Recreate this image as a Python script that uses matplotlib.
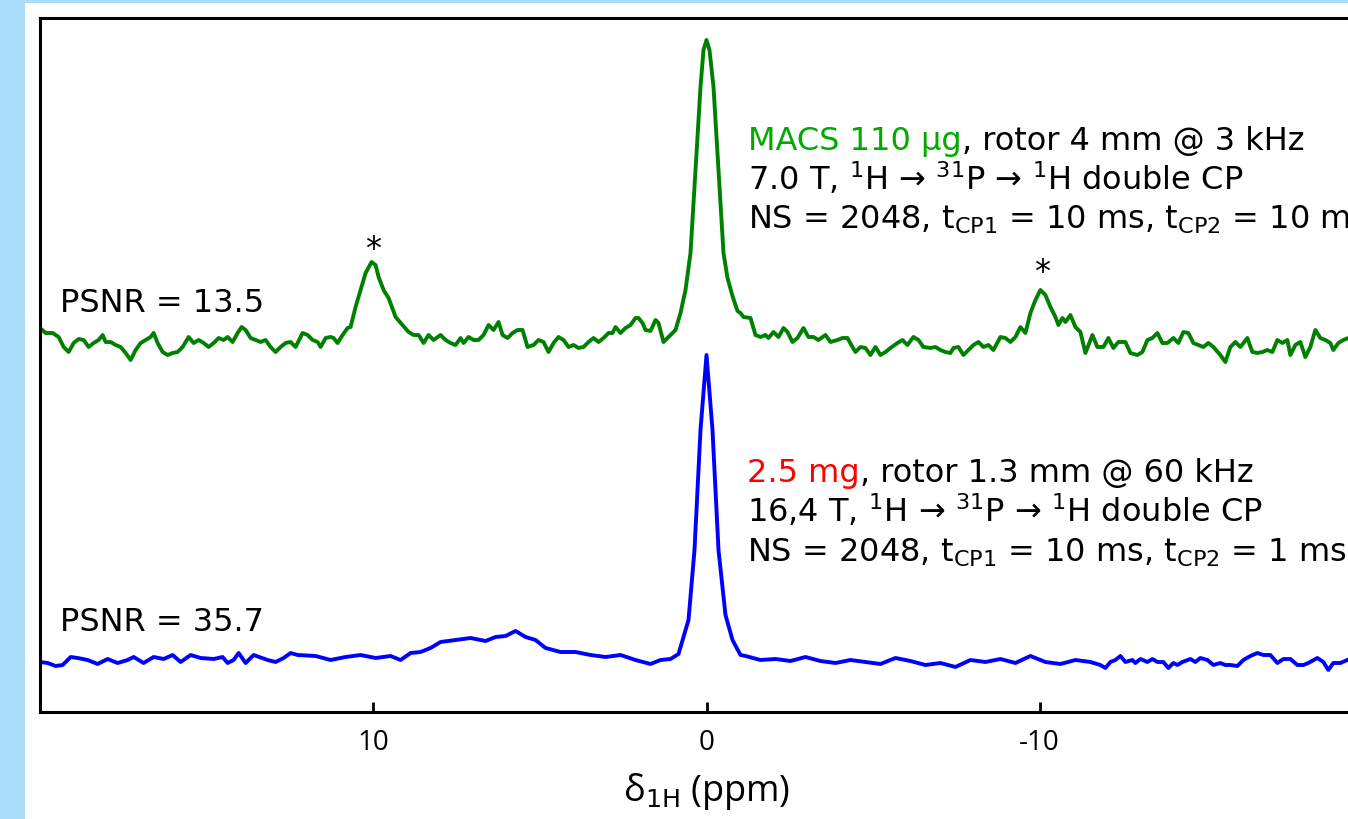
import numpy as np
import matplotlib.pyplot as plt
from matplotlib.patches import Rectangle

# 1H double-CP spectra (ppm, intensity in a.u.)
macs_ppm = [20.0, 19.83, 19.62, 19.44, 19.29, 19.14, 18.99, 18.84, 18.69, 18.54, 18.39, 18.24, 18.12, 18.03,
            17.88, 17.73, 17.58, 17.43, 17.28, 17.13, 16.98, 16.83, 16.68, 16.59, 16.47, 16.32, 16.17, 16.02,
            15.87, 15.72, 15.54, 15.39, 15.24, 15.09, 14.94, 14.79, 14.64, 14.49, 14.37, 14.22, 14.07, 13.95,
            13.83, 13.68, 13.53, 13.38, 13.23, 13.08, 12.93, 12.78, 12.63, 12.48, 12.33, 12.12, 11.97, 11.82,
            11.67, 11.58, 11.43, 11.28, 11.19, 11.07, 10.92, 10.77, 10.68, 10.53, 10.38, 10.23, 10.05, 9.93,
            9.84, 9.69, 9.54, 9.33, 9.12, 8.94, 8.79, 8.64, 8.49, 8.34, 8.19, 7.98, 7.83, 7.68, 7.53, 7.38,
            7.29, 7.14, 6.99, 6.84, 6.69, 6.54, 6.39, 6.24, 6.12, 5.97, 5.82, 5.67, 5.52, 5.37, 5.19, 5.04,
            4.89, 4.74, 4.59, 4.44, 4.29, 4.14, 3.99, 3.84, 3.69, 3.54, 3.39, 3.24, 3.09, 2.94, 2.82, 2.73,
            2.58, 2.43, 2.28, 2.13, 2.04, 1.92, 1.83, 1.68, 1.53, 1.44, 1.29, 1.14, 0.93, 0.78, 0.63, 0.48,
            0.33, 0.18, 0.09, 0.0, -0.09, -0.21, -0.36, -0.51, -0.63, -0.78, -0.93, -1.02, -1.11, -1.32,
            -1.47, -1.62, -1.77, -1.86, -2.01, -2.16, -2.31, -2.43, -2.58, -2.73, -2.91, -3.06, -3.21, -3.36,
            -3.57, -3.72, -3.93, -4.08, -4.23, -4.38, -4.47, -4.62, -4.77, -4.92, -5.07, -5.22, -5.37, -5.52,
            -5.73, -5.88, -6.03, -6.21, -6.36, -6.51, -6.72, -6.87, -7.02, -7.17, -7.32, -7.41, -7.56, -7.71,
            -7.86, -8.01, -8.16, -8.31, -8.46, -8.61, -8.82, -8.97, -9.12, -9.27, -9.42, -9.57, -9.72, -9.87,
            -10.02, -10.17, -10.32, -10.47, -10.56, -10.68, -10.77, -10.92, -11.07, -11.22, -11.37, -11.58,
            -11.73, -11.91, -12.06, -12.21, -12.36, -12.57, -12.72, -12.93, -13.08, -13.23, -13.38, -13.53,
            -13.68, -13.83, -14.01, -14.16, -14.31, -14.46, -14.61, -14.76, -14.91, -15.06, -15.21, -15.42,
            -15.57, -15.72, -15.87, -16.02, -16.23, -16.38, -16.53, -16.68, -16.83, -16.98, -17.13, -17.28,
            -17.43, -17.52, -17.67, -17.82, -17.97, -18.12, -18.27, -18.42, -18.57, -18.72, -18.81, -18.96,
            -19.11, -19.26]
macs_int = [12, 7, 7, 3, -7, -12, -3, 1, 0, -7, -3, 0, 5, -2,
            -2, -5, -7, -13, -20, -10, -3, 0, 3, 7, -3, -12, -15, -13,
            -12, -7, 3, -3, 0, -3, -7, -3, 2, 0, 3, -2, 7, 13,
            10, 2, 0, -2, 0, -7, -12, -7, -3, -2, -7, 7, 5, 0,
            -2, -7, 2, 3, 2, -3, 5, 12, 13, 33, 50, 67, 78, 75,
            63, 50, 42, 23, 15, 8, 5, 5, -3, 5, 0, 5, 0, -3, -5, 2,
            -3, 3, 0, 0, 5, 15, 10, 18, 5, 2, 7, 10, 10, -7, -5, 0,
            -2, -12, -3, 3, 0, -7, -5, -8, -7, -2, 2, -2, 2, 7, 7, 13,
            7, 12, 15, 22, 22, 17, 10, 9, 20, 17, -2, 3, 10, 27, 50, 87,
            170, 253, 290, 300, 290, 253, 170, 87, 62, 44, 29, 27, 23, 22,
            5, 3, 5, 2, 8, 3, 12, 8, -2, 2, 12, 3, 3, 0,
            5, -2, 0, 2, 2, -7, -12, -7, -8, -15, -7, -15, -12, -8,
            -3, 0, -5, 3, 0, -7, -8, -7, -10, -12, -13, -8, -7, -15,
            -10, -5, -2, -7, -5, -10, 3, 2, -2, 3, 13, 7, 27, 40,
            50, 45, 33, 23, 15, 22, 18, 25, 13, 8, -13, 5,
            -7, -7, 2, -8, -2, -2, -13, -15, -12, 0, 2, 7,
            -3, -3, 2, -3, 8, 7, -3, -5, -7, -3, -7, -15,
            -22, -7, -2, -7, 2, -12, -13, -12, -10, -12, 0, -3,
            0, -15, -5, -2, -17, -7, 10, 2, 0, -3, -10, -3,
            0, 2]

ref_ppm = [20.0, 19.77, 19.53, 19.32, 19.08, 18.87, 18.57, 18.27, 17.97, 17.67, 17.37, 17.19, 16.89, 16.59,
           16.29, 16.02, 15.78, 15.48, 15.18, 14.79, 14.52, 14.37, 14.19, 14.04, 13.83, 13.59, 13.17, 12.93,
           12.69, 12.48, 12.27,
           11.73, 11.28, 10.83, 10.38, 9.93, 9.48, 9.18, 8.88, 8.58, 8.28, 7.98, 7.53, 7.08, 6.63, 6.33,
           6.03, 5.73, 5.43, 5.13, 4.83, 4.38, 3.93, 3.48, 3.03, 2.58, 2.13, 1.68, 1.38, 1.08, 0.84,
           0.54, 0.36, 0.18, 0.0, -0.18, -0.36, -0.57, -0.78, -1.02,
           -1.17, -1.62, -2.07, -2.52, -2.97, -3.42, -3.87, -4.32, -4.77, -5.22, -5.67, -6.12,
           -6.57, -7.02, -7.47, -7.92, -8.37, -8.82, -9.27, -9.72, -10.17, -10.62, -11.07, -11.52,
           -11.82, -11.97, -12.12, -12.27, -12.42, -12.57, -12.78, -12.87, -13.02, -13.23, -13.38, -13.53,
           -13.71, -13.86, -14.01, -14.13, -14.28, -14.52, -14.67, -14.82, -15.03, -15.21, -15.42, -15.57,
           -15.72, -15.93, -16.11, -16.32, -16.53, -16.71, -16.92, -17.13, -17.31, -17.52, -17.73, -17.91,
           -18.06, -18.33, -18.51, -18.66, -18.81, -19.02, -19.23]
ref_int = [-2, -3, -6, -5, 3, 2, 0, -4, 1, -3, 0, 3, -3, 3,
           1, 5, -2, 5, 2, 1, 3, -3, 0, 7, -3, 5, 0, -2,
           2, 7, 5,
           4, 0, 3, 5, 2, 4, 0, 7, 8, 12, 18, 20, 22, 19, 23,
           24, 29, 23, 20, 12, 8, 8, 5, 3, 5, 0, -4, 0, 1, 6,
           40, 110, 230, 305, 230, 110, 45, 20, 5,
           4, 0, 1, -1, 3, -1, -3, 0, -2, -4, 2, -1,
           -5, -3, -7, 0, -2, 1, -3, 4, -2, -4, 0, -2,
           -5, -8, -2, 0, 4, -2, 0, -3, 1, -2, 1, -2,
           -2, -8, -3, -5, -2, 1, -2, 2, 0, -5, -3, -5,
           -5, -6, 0, 4, 7, 5, 5, -3, 1, 1, -5, -5,
           -3, 2, -2, -10, -3, -3, 0]

ticks = [10, 0, -10]
psnr_macs = 13.5
psnr_ref = 35.7

W, H = 1348, 819
plt.rcParams['font.family'] = ['DejaVu Sans']

fig = plt.figure(figsize=(W / 100, H / 100), dpi=100, facecolor='#aadcf7')
fig.patches.append(Rectangle((25 / W, 0), 1, 1 - 3 / H, transform=fig.transFigure,
                             facecolor='white', edgecolor='none', zorder=-5))

ax = fig.add_axes([40 / W, 1 - 712 / H, 1333 / W, 694 / H])
ax.plot(macs_ppm, np.array(macs_int) + 372, color='green', lw=2.8)
ax.plot(ref_ppm, np.array(ref_int) + 52, color='blue', lw=2.8)
ax.set_xlim(20, -20)
ax.set_ylim(0, 694)

for s in ax.spines.values():
    s.set_linewidth(2.2)
ax.spines['right'].set_visible(False)
ax.set_yticks([])
ax.set_xticks(ticks)
ax.set_xticklabels([str(t) for t in ticks], fontfamily='Open Sans', fontsize=20)
ax.tick_params(axis='x', direction='in', length=7, width=2, pad=12)
ax.set_xlabel(r'δ$_{\mathrm{1H}}$ (ppm)', fontfamily='Open Sans', fontsize=26)
ax.xaxis.set_label_coords(0.5, -0.085)


def fx(px):
    return px / W


def fy(py):
    return 1 - py / H


fs = 23
fig.text(fx(60), fy(312), f'PSNR = {psnr_macs}', fontsize=fs, va='baseline')
fig.text(fx(60), fy(631), f'PSNR = {psnr_ref}', fontsize=fs, va='baseline')
fig.text(fx(373), fy(258), '*', fontsize=fs, ha='center', va='baseline')
fig.text(fx(1042), fy(281), '*', fontsize=fs, ha='center', va='baseline')

t1 = fig.text(fx(748), fy(150), 'MACS 110 µg', fontsize=fs, color='#00aa00', va='baseline')
fig.texts.append(plt.Annotation(', rotor 4 mm @ 3 kHz', xy=(1, 0), xycoords=t1,
                                fontsize=fs, va='bottom'))
fig.text(fx(748), fy(190), '7.0 T, $^{1}$H → $^{31}$P → $^{1}$H double CP',
         fontsize=fs, va='baseline')
fig.text(fx(748), fy(229), r'NS = 2048, t$_{\mathrm{CP1}}$ = 10 ms, t$_{\mathrm{CP2}}$ = 10 ms',
         fontsize=fs, va='baseline')

t2 = fig.text(fx(747), fy(482), '2.5 mg', fontsize=fs, color='#ff0000', va='baseline')
fig.texts.append(plt.Annotation(', rotor 1.3 mm @ 60 kHz', xy=(1, 0), xycoords=t2,
                                fontsize=fs, va='bottom'))
fig.text(fx(747), fy(522), '16,4 T, $^{1}$H → $^{31}$P → $^{1}$H double CP',
         fontsize=fs, va='baseline')
fig.text(fx(747), fy(562), r'NS = 2048, t$_{\mathrm{CP1}}$ = 10 ms, t$_{\mathrm{CP2}}$ = 1 ms',
         fontsize=fs, va='baseline')

for t in fig.texts:
    t.set_figure(fig)

plt.savefig('out.png', dpi=100, facecolor=fig.get_facecolor())
